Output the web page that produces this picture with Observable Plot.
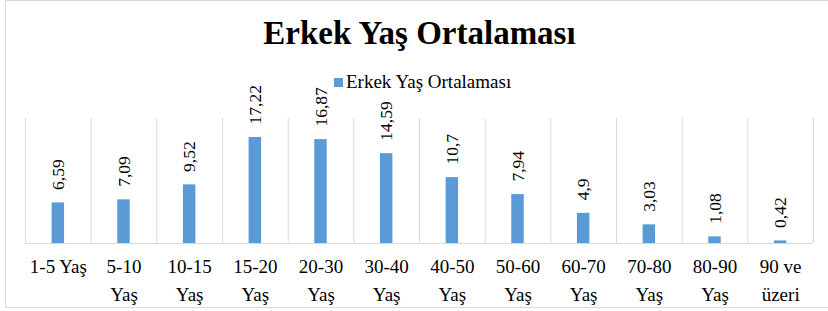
<!DOCTYPE html>
<html>
<head>
<meta charset="utf-8">
<script src="https://cdn.jsdelivr.net/npm/d3@7"></script>
<script src="https://cdn.jsdelivr.net/npm/@observablehq/plot@0.6"></script>
<style>
  html, body { margin: 0; padding: 0; background: #fff; }
  #wrap { position: relative; width: 828px; height: 311px; overflow: hidden; font-family: "Liberation Serif", serif; }
  #border { position: absolute; left: 5px; top: 0px; width: 840px; height: 308px; border: 1px solid #d9d9d9; box-sizing: border-box; }
  #title { position: absolute; left: 0; width: 839px; top: 17px; text-align: center; font-size: 33px; line-height: 33px; font-weight: bold; color: #000; white-space: nowrap; }
  #legend { position: absolute; left: 334px; top: 72px; font-size: 19px; line-height: 19px; color: #000; white-space: nowrap; }
  #legend .sw { display: inline-block; width: 9px; height: 9px; background: #5b9bd5; margin-right: 3px; vertical-align: 1px; }
  #chart { position: absolute; left: 0; top: 0; width: 828px; }
</style>
</head>
<body>
<div id="wrap">
  <div id="border"></div>
  <div id="chart"></div>
  <div id="title">Erkek Yaş Ortalaması</div>
  <div id="legend"><span class="sw"></span>Erkek Yaş Ortalaması</div>
</div>
<script>
const categories = ["1-5 Yaş", "5-10 Yaş", "10-15 Yaş", "15-20 Yaş", "20-30 Yaş", "30-40 Yaş", "40-50 Yaş", "50-60 Yaş", "60-70 Yaş", "70-80 Yaş", "80-90 Yaş", "90 ve üzeri"];
const tickLabels = ["1-5 Yaş", "5-10\nYaş", "10-15\nYaş", "15-20\nYaş", "20-30\nYaş", "30-40\nYaş", "40-50\nYaş", "50-60\nYaş", "60-70\nYaş", "70-80\nYaş", "80-90\nYaş", "90 ve\nüzeri"];
const values = [6.59, 7.09, 9.52, 17.22, 16.87, 14.59, 10.7, 7.94, 4.9, 3.03, 1.08, 0.42];

const data = categories.map((c, i) => ({cat: c, value: values[i]}));
const width = 828, height = 311, marginLeft = 25, marginRight = 15;
const step = (width - marginLeft - marginRight) / categories.length;
const fmt = v => String(v).replace(".", ",");
const serif = "Liberation Serif, serif";

const chart = Plot.plot({
  width, height,
  marginLeft, marginRight, marginTop: 118, marginBottom: 68,
  style: {fontFamily: serif, background: "transparent", color: "#000", maxWidth: "none"},
  x: {domain: categories, padding: 0, round: false, axis: null},
  y: {domain: [0, 20.3], axis: null},
  marks: [
    Plot.ruleX(categories, {x: d => d, dx: -step / 2, stroke: "#d9d9d9", strokeWidth: 1}),
    Plot.ruleX([categories[categories.length - 1]], {x: d => d, dx: step / 2, stroke: "#d9d9d9", strokeWidth: 1}),
    Plot.ruleY([0], {stroke: "#d9d9d9", strokeWidth: 1}),
    Plot.barY(data, {x: "cat", y: "value", fill: "#5b9bd5", insetLeft: 26.6, insetRight: 26.6}),
    Plot.text(data, {x: "cat", y: "value", text: d => fmt(d.value), rotate: -90, textAnchor: "start", dy: -13, fontSize: 17.5, fontFamily: serif, fill: "#000"}),
    Plot.axisX({domain: categories, tickSize: 0, tickPadding: 10, fontSize: 19, fontFamily: serif, lineHeight: 1.47, lineAnchor: "top", tickFormat: d => tickLabels[categories.indexOf(d)], fill: "#000", label: null})
  ]
});
document.getElementById("chart").appendChild(chart);
</script>
</body>
</html>
